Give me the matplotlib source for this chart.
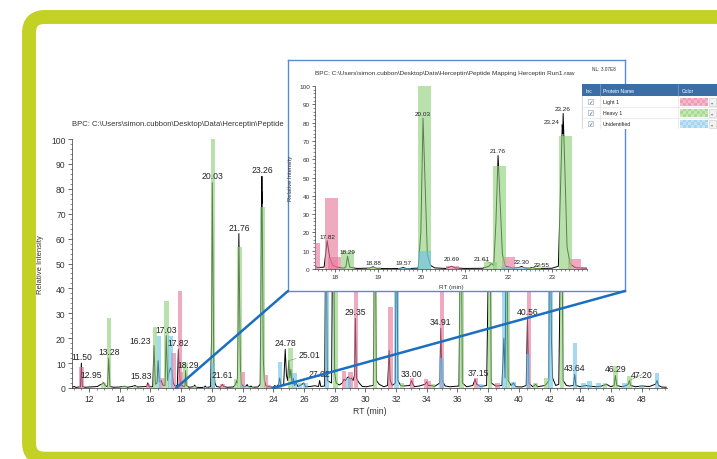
import numpy as np
import matplotlib
matplotlib.use('Agg')
import matplotlib.pyplot as plt
from matplotlib.patches import FancyBboxPatch, Rectangle, ConnectionPatch
from matplotlib.ticker import MultipleLocator
from matplotlib.transforms import Bbox, TransformedBbox

plt.rcParams['font.family'] = ['Liberation Sans', 'DejaVu Sans']

# base peak chromatogram, vertices (RT min, relative intensity)
trace_rt = [10.90, 11.05, 11.15, 11.30, 11.44, 11.50, 11.56, 11.75, 12.05, 12.30, 12.55, 12.70,
            12.85, 12.95, 13.05, 13.20, 13.28, 13.36, 13.60, 14.00, 14.30, 14.50, 14.80, 15.00,
            15.15, 15.50, 15.75, 15.83, 15.92, 16.15, 16.23, 16.32, 16.43, 16.50, 16.58, 16.70,
            16.80, 16.95, 17.03, 17.12, 17.20, 17.30, 17.40, 17.48, 17.60, 17.75, 17.82, 17.88,
            17.95, 18.05, 18.20, 18.25, 18.29, 18.34, 18.50, 18.80, 18.88, 18.96, 19.30, 19.50,
            19.57, 19.65, 19.92, 19.98, 20.03, 20.08, 20.13, 20.20, 20.30, 20.55, 20.63, 20.69,
            20.76, 21.00, 21.40, 21.55, 21.61, 21.66, 21.71, 21.76, 21.81, 21.86, 21.93, 22.10,
            22.24, 22.30, 22.37, 22.48, 22.55, 22.63, 23.00, 23.15, 23.20, 23.24, 23.25, 23.26,
            23.30, 23.35, 23.42, 23.52, 23.70, 24.00, 24.10, 24.20, 24.35, 24.42, 24.50, 24.68,
            24.78, 24.86, 24.94, 25.01, 25.08, 25.15, 25.22, 25.30, 25.38, 25.50, 25.60, 25.80,
            26.00, 26.10, 26.40, 26.70, 26.95, 27.02, 27.10, 27.35, 27.44, 27.52, 27.80, 27.90,
            28.00, 28.10, 28.30, 28.50, 28.60, 28.70, 28.80, 28.90, 29.00, 29.10, 29.20, 29.29,
            29.35, 29.42, 29.50, 29.60, 29.80, 30.10, 30.30, 30.52, 30.62, 30.72, 30.90, 31.20,
            31.45, 31.55, 31.62, 31.75, 31.95, 32.03, 32.12, 32.30, 32.50, 32.90, 33.00, 33.10,
            33.20, 33.50, 33.90, 34.00, 34.10, 34.30, 34.50, 34.85, 34.91, 35.00, 35.20, 35.50,
            36.10, 36.22, 36.32, 36.60, 37.00, 37.15, 37.25, 37.50, 37.90, 38.10, 38.20, 38.50,
            38.90, 39.02, 39.10, 39.20, 39.30, 39.50, 39.65, 39.80, 40.20, 40.48, 40.56, 40.65,
            40.90, 41.10, 41.20, 41.70, 41.85, 41.95, 42.02, 42.12, 42.20, 42.40, 42.60, 42.78,
            42.88, 43.10, 43.30, 43.55, 43.64, 43.72, 44.00, 44.30, 44.60, 45.00, 45.40, 45.70,
            46.00, 46.20, 46.29, 46.38, 46.70, 47.00, 47.12, 47.20, 47.28, 47.60, 48.00, 48.50,
            48.90, 49.00, 49.10, 49.30, 49.60]
trace_int = [0.3, 0.6, 0.2, 0.4, 0.4, 10.0, 0.6, 0.3, 0.4, 0.5, 0.6, 1.2,
             1.6, 2.2, 1.0, 0.5, 12.0, 0.6, 0.3, 0.4, 0.7, 0.3, 0.6, 1.0,
             0.4, 0.5, 0.6, 2.0, 0.5, 0.5, 17.0, 1.5, 2.0, 11.0, 2.5, 3.0,
             1.2, 1.0, 21.0, 3.0, 6.0, 8.0, 7.0, 2.0, 0.8, 1.0, 15.5, 6.0,
             2.0, 1.0, 0.5, 1.0, 7.0, 1.0, 0.3, 0.5, 1.2, 0.3, 0.2, 0.3,
             0.8, 0.2, 0.5, 20.0, 82.5, 45.0, 8.0, 2.0, 0.6, 0.3, 1.0, 1.5,
             0.6, 0.3, 0.4, 1.5, 3.0, 2.0, 25.0, 62.0, 35.0, 8.0, 1.5, 0.5,
             0.8, 1.4, 0.6, 0.4, 0.8, 0.3, 0.4, 1.5, 45.0, 79.0, 74.0, 85.0,
             55.0, 12.0, 3.0, 1.0, 0.5, 0.3, 1.0, 0.4, 1.5, 4.0, 1.0, 1.5,
             15.5, 5.0, 3.0, 11.0, 4.0, 7.5, 2.0, 4.0, 1.0, 2.0, 0.6, 1.2,
             2.0, 0.5, 0.6, 0.9, 0.6, 3.0, 0.6, 0.8, 90.0, 3.0, 2.0, 95.0,
             6.0, 2.0, 1.2, 2.0, 3.5, 3.0, 4.0, 4.5, 3.5, 4.0, 3.0, 5.0,
             28.0, 4.0, 3.0, 2.0, 0.6, 0.5, 0.8, 1.0, 88.0, 3.0, 1.5, 0.5,
             1.0, 15.0, 3.0, 1.0, 2.0, 80.0, 3.0, 1.0, 0.8, 1.0, 3.0, 1.5,
             0.5, 0.8, 1.5, 2.5, 1.0, 1.0, 0.6, 2.0, 24.0, 3.0, 0.8, 0.5,
             0.8, 90.0, 2.0, 0.5, 1.0, 3.5, 1.5, 0.6, 1.0, 88.0, 2.0, 0.8,
             1.0, 20.0, 4.0, 85.0, 3.0, 1.0, 2.0, 0.5, 0.4, 1.0, 28.0, 2.0,
             0.5, 1.5, 0.5, 1.0, 2.0, 3.0, 92.0, 20.0, 4.0, 1.0, 1.5, 88.0,
             3.0, 1.0, 0.8, 1.0, 5.5, 1.0, 0.5, 1.0, 0.8, 0.5, 0.8, 1.5,
             0.5, 1.0, 5.0, 1.0, 0.5, 1.0, 1.5, 3.0, 1.0, 0.5, 0.8, 0.6,
             1.5, 3.0, 1.0, 0.4, 0.3]

# identified peptide bars
light_rt = [11.50, 15.85, 16.72, 17.50, 17.92, 18.00, 20.70, 22.00, 23.53, 23.70, 28.62,
            29.05, 29.38, 31.63, 33.05, 33.95, 34.15, 35.00, 37.20, 38.60, 40.65]
light_h = [8.5, 1.5, 4, 14, 39, 6.5, 1.5, 6.5, 5.3, 1.2, 7,
           6.5, 100, 32.5, 4, 3.5, 3, 100, 4, 2, 95]
heavy_rt = [12.95, 13.30, 14.30, 15.00, 16.30, 17.05, 18.30, 18.90, 20.07, 21.58, 21.80,
            22.60, 23.31, 25.12, 28.05, 30.63, 32.40, 34.40, 36.27, 38.13, 39.30, 41.10,
            41.80, 42.82, 45.60, 46.30, 47.20]
heavy_h = [2, 28, 0.8, 1, 24.5, 35, 10, 1, 100, 3.6, 56.5,
           0.6, 72.6, 16, 95, 90, 2, 1.5, 92, 92, 90, 2,
           4, 90, 2, 9, 5]
unid_rt = [16.55, 17.30, 19.60, 20.07, 21.98, 22.30, 24.45, 25.40, 25.75, 26.10, 27.50,
           28.90, 32.03, 34.95, 37.50, 39.07, 39.65, 40.60, 42.05, 43.65, 44.20, 44.60,
           45.20, 46.90, 48.00, 49.00]
unid_h = [21, 21, 0.6, 10, 1, 1, 10.5, 6, 2, 2, 95,
          4, 90, 12, 1.5, 90, 2.5, 13.5, 90, 18, 2, 3,
          2, 2, 1, 6]

main_labels = [11.50, 12.95, 13.28, 15.83, 16.23, 17.03, 17.82, 18.29, 20.03, 21.61, 21.76,
               23.26, 24.78, 25.01, 27.02, 29.35, 33.00, 34.91, 37.15, 40.56, 43.64, 46.29, 47.20]
inset_labels = [17.82, 18.29, 18.88, 19.57, 20.03, 20.69, 21.61, 21.76, 22.30, 22.55, 23.24, 23.26]

zoom_rt = [17.67, 24.0]
proteins = ['Light 1', 'Heavy 1', 'Unidentified']
title = r'BPC: C:\Users\simon.cubbon\Desktop\Data\Herceptin\Peptide Mapping Herceptin Run1.raw'

PINK, GREEN, BLUE = '#e8769a', '#8fd07a', '#6cc2ea'
W, H = 717, 460


def rect(l, t, r, b):
    return [l / W, 1 - b / H, (r - l) / W, (b - t) / H]


def draw(ax, lw):
    for rts, hs, c in [(light_rt, light_h, PINK), (heavy_rt, heavy_h, GREEN), (unid_rt, unid_h, BLUE)]:
        ax.bar(rts, hs, width=0.3, color=c, alpha=0.62, linewidth=0, zorder=3)
    ax.plot(trace_rt, trace_int, color='black', lw=lw, zorder=2)
    for s in ['top', 'right']:
        ax.spines[s].set_visible(False)
    for s in ['left', 'bottom']:
        ax.spines[s].set_linewidth(0.5)
        ax.spines[s].set_color('#333333')


def label(ax, labels, size, offsets, leaders):
    for rt in labels:
        h = np.interp(rt, trace_rt, trace_int)
        off = offsets.get(rt, (0, 1.5))
        kw = {}
        if rt in leaders:
            kw['arrowprops'] = dict(arrowstyle='-', color='#8aa66a', lw=0.5, shrinkA=0, shrinkB=0)
        ax.annotate(f'{rt:.2f}', (rt, h), xytext=off, textcoords='offset points',
                    ha='center', va='bottom', fontsize=size, color='#222222', zorder=5, **kw)


fig = plt.figure(figsize=(7.17, 4.60), dpi=100)

# green rounded frame
bg = fig.add_axes([0, 0, 1, 1], zorder=-1)
bg.set_xlim(0, W)
bg.set_ylim(H, 0)
bg.axis('off')
bg.add_patch(FancyBboxPatch((29, 18), 740, 441.7, boxstyle='round,pad=0,rounding_size=16',
                            fc='white', ec='#c3d124', lw=10))

# main chromatogram
ax = fig.add_axes(rect(72, 140, 667, 389), zorder=0)
ax.patch.set_visible(False)
draw(ax, 0.7)
ax.set_xlim(10.89, 49.65)
ax.set_ylim(0, 100)
ax.xaxis.set_major_locator(MultipleLocator(2))
ax.xaxis.set_minor_locator(MultipleLocator(0.5))
ax.yaxis.set_major_locator(MultipleLocator(10))
ax.yaxis.set_minor_locator(MultipleLocator(2))
ax.tick_params(which='major', length=3, width=0.5, labelsize=6.2, pad=1.5, colors='#333333')
ax.tick_params(which='minor', length=1.5, width=0.4, colors='#333333')
ax.set_ylabel('Relative Intensity', fontsize=5.5, color='#333333')
ax.yaxis.set_label_coords(-0.047, 0.5)
ax.set_xlabel('RT (min)', fontsize=6.2, color='#333333')
ax.xaxis.set_label_coords(0.5, -0.072)
# the main title runs under the inset box, so cut it at the box edge
t = ax.text(0, 1.064, title.split('Peptide')[0] + 'Peptide', transform=ax.transAxes,
            fontsize=5.5, color='#333333', va='center')
t.set_clip_box(TransformedBbox(Bbox([[0, 0], [287 / W, 1]]), fig.transFigure))
t.set_clip_on(True)
label(ax, main_labels, 6.2,
      {12.95: (-9, 2.5), 15.83: (-5, 2.5), 16.23: (-10, 0.5), 18.29: (2, 1), 21.61: (-10, 1),
       25.01: (15, 1), 37.15: (2, 1.5), 47.20: (9, 1)},
      {12.95, 15.83, 16.23, 21.61, 25.01, 47.20})

# inset box
box = fig.add_axes(rect(288, 61, 625, 292), zorder=1)
box.set_xticks([])
box.set_yticks([])
for s in box.spines.values():
    s.set_color('#5a8ad6')
    s.set_linewidth(1.0)

ins = fig.add_axes(rect(315, 87, 587, 270), zorder=2)
ins.patch.set_visible(False)
draw(ins, 0.7)
ins.set_xlim(17.54, 23.81)
ins.set_ylim(0, 100)
ins.xaxis.set_major_locator(MultipleLocator(1))
ins.xaxis.set_minor_locator(MultipleLocator(0.1))
ins.yaxis.set_major_locator(MultipleLocator(10))
ins.yaxis.set_minor_locator(MultipleLocator(2))
ins.tick_params(which='major', length=2.5, width=0.5, labelsize=4.6, pad=1.2, colors='#333333')
ins.tick_params(which='minor', length=1.2, width=0.4, colors='#333333')
ins.set_ylabel('Relative Intensity', fontsize=4.2, color='#333333')
ins.yaxis.set_label_coords(-0.081, 0.5)
ins.set_xlabel('RT (min)', fontsize=4.6, color='#333333')
ins.xaxis.set_label_coords(0.5, -0.082)
ins.text(0, 1.076, title, transform=ins.transAxes, fontsize=4.6, color='#333333', va='center')
ins.text(1.02, 1.098, 'NL: 3.07E8', transform=ins.transAxes, fontsize=3.4, color='#333333', va='center')
label(ins, inset_labels, 4.6, {20.69: (0, 3.5), 21.61: (-7, 1.5), 22.55: (7, 0.5), 23.24: (-8, 0)},
      {21.61, 22.55, 23.24})

# zoom connector lines
for rt, corner in zip(zoom_rt, [(0, 0), (1, 0)]):
    con = ConnectionPatch(xyA=(rt, 0), coordsA=ax.transData, xyB=corner, coordsB=box.transAxes,
                          color='#1b6ec2', lw=1.8, zorder=5)
    fig.add_artist(con)

# legend table
tb = fig.add_axes(rect(582, 85, 717, 130), zorder=3)
tb.set_xlim(582, 717)
tb.set_ylim(130, 85)
tb.axis('off')
tb.add_patch(Rectangle((582, 85), 135, 45, fc='white', ec='#c8c8c8', lw=0.5))
tb.add_patch(Rectangle((582, 85), 135, 12, fc='#3c6ea6', ec='none'))
for x in [600, 678]:
    tb.plot([x, x], [85, 97], color='#7fa1cc', lw=0.5)
    tb.plot([x, x], [97, 130], color='#dddddd', lw=0.4)
for x, s in [(585, 'Inc'), (603, 'Protein Name'), (682, 'Color')]:
    tb.text(x, 91.2, s, color='white', fontsize=3.6, va='center')
swatches = [('#f6b8cb', '#eca0b8'), ('#c6e8b4', '#a9da93'), ('#c2e4f5', '#a3d5ee')]
for i, name in enumerate(proteins):
    y0 = 97 + i * 11
    tb.plot([582, 717], [y0 + 11, y0 + 11], color='#dddddd', lw=0.4)
    tb.add_patch(Rectangle((587.5, y0 + 3), 5, 5, fc='white', ec='#8c9bb0', lw=0.4))
    tb.text(590, y0 + 5.6, '\u2713', color='#2a5caa', fontsize=4, ha='center', va='center',
            family='DejaVu Sans')
    tb.text(603, y0 + 5.6, name, color='#222222', fontsize=3.8, va='center')
    for cx in range(10):
        for cy in range(3):
            tb.add_patch(Rectangle((680 + cx * 2.8, y0 + 1.5 + cy * 2.7), 2.8, 2.7,
                                   fc=swatches[i][(cx + cy) % 2], ec='none'))
    tb.add_patch(Rectangle((709, y0 + 1.5), 7, 8, fc='#f2f2f2', ec='#c8c8c8', lw=0.4))
    tb.text(712.5, y0 + 5.6, '\u25be', color='#777777', fontsize=3, ha='center', va='center',
            family='DejaVu Sans')

fig.savefig('out.png', dpi=100)
